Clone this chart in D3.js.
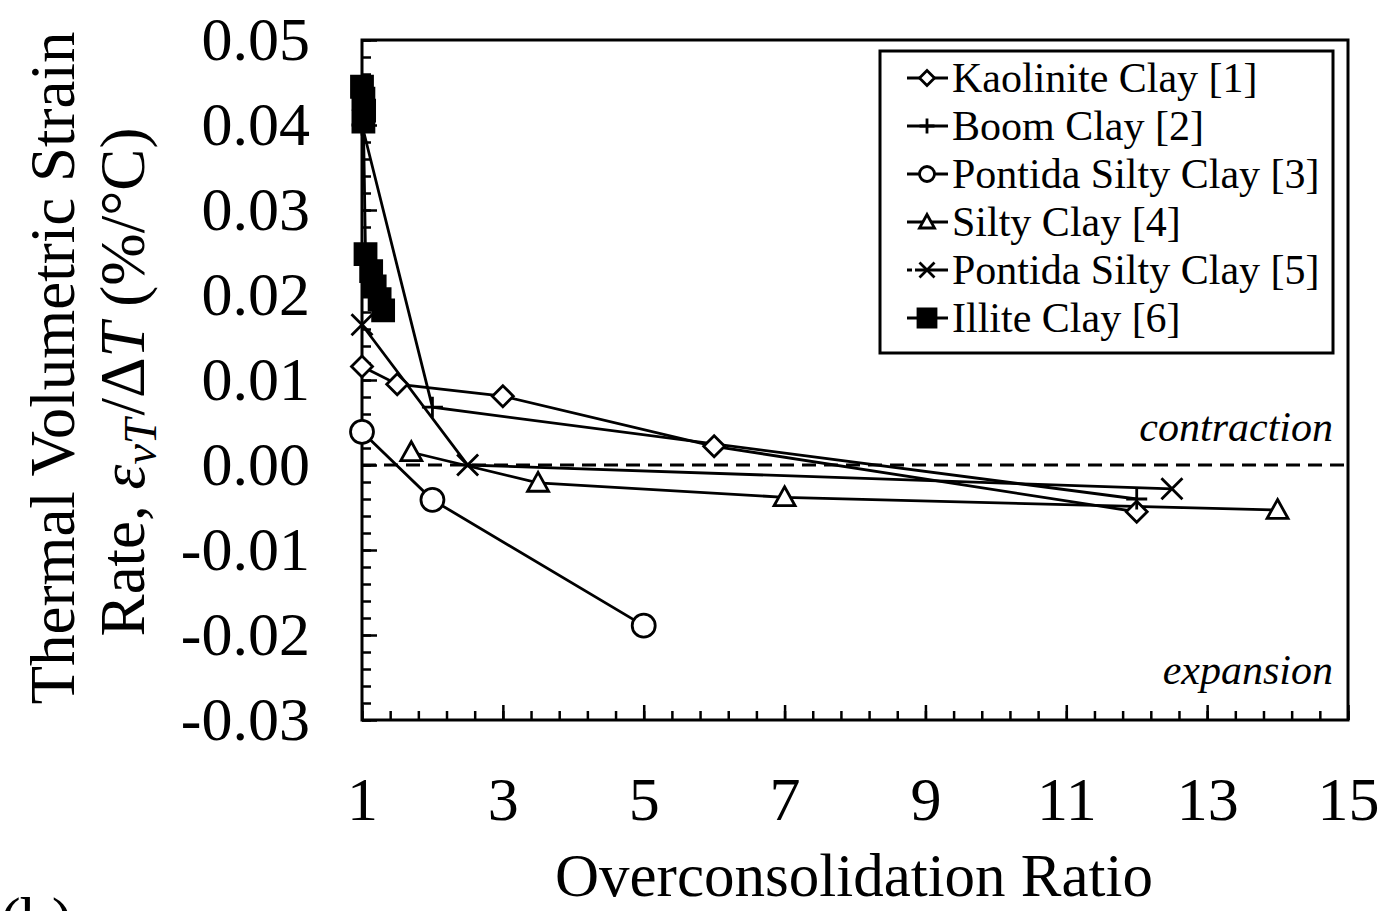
<!DOCTYPE html>
<html>
<head>
<meta charset="utf-8">
<script src="https://cdn.jsdelivr.net/npm/d3@7"></script>
<style>
  body { margin: 0; background: #fff; }
  svg { display: block; font-family: "Liberation Serif", "Times New Roman", serif; }
</style>
</head>
<body>
<svg id="chart"></svg>
<script>
const width = 1379;
const height = 911;

// data
const kaoliniteX = [1, 1.5, 3, 6, 12];
const kaoliniteY = [0.0116, 0.0095, 0.0081, 0.0022, -0.0055];
const boomX = [1, 2, 12];
const boomY = [0.040, 0.0068, -0.0040];
const pontida3X = [1, 2, 5];
const pontida3Y = [0.0039, -0.0041, -0.0189];
const siltyX = [1.7, 3.5, 7, 14];
const siltyY = [0.0015, -0.0021, -0.0038, -0.0053];
const pontida5X = [1, 2.5, 12.5];
const pontida5Y = [0.0165, 0.0, -0.0028];
const illiteX = [1.0, 1.02, 1.03, 1.02, 1.05, 1.13, 1.18, 1.25, 1.3];
const illiteY = [0.0445, 0.0431, 0.0417, 0.0404, 0.0248, 0.0228, 0.021, 0.0195, 0.0182];

const seriesNames = ["Kaolinite Clay [1]", "Boom Clay [2]", "Pontida Silty Clay [3]",
  "Silty Clay [4]", "Pontida Silty Clay [5]", "Illite Clay [6]"];
const seriesMarkers = ["diamond", "plus", "circle", "triangle", "cross", "square"];

const xMajor = [1, 3, 5, 7, 9, 11, 13, 15];
const yMajor = [-0.03, -0.02, -0.01, 0, 0.01, 0.02, 0.03, 0.04, 0.05];

const series = [
  [kaoliniteX, kaoliniteY], [boomX, boomY], [pontida3X, pontida3Y],
  [siltyX, siltyY], [pontida5X, pontida5Y], [illiteX, illiteY]
].map((s, i) => ({
  name: seriesNames[i],
  marker: seriesMarkers[i],
  points: s[0].map((x, j) => ({ x: x, y: s[1][j] }))
}));

const svg = d3.select("#chart").attr("width", width).attr("height", height);

const x = d3.scaleLinear().domain([1, 15]).range([362, 1348]);
const y = d3.scaleLinear().domain([-0.03, 0.05]).range([720, 40]);

// marker shapes, centred at 0,0
function markerPath(type, s) {
  const h = s / 2;
  if (type === "diamond") return `M0,${-h}L${h},0L0,${h}L${-h},0Z`;
  if (type === "plus") return `M${-h},0H${h}M0,${-h}V${h}`;
  if (type === "triangle") return `M0,${-h}L${h},${h * 0.8}L${-h},${h * 0.8}Z`;
  if (type === "cross") return `M${-h},${-h}L${h},${h}M${-h},${h}L${h},${-h}`;
  if (type === "square") return `M${-h},${-h}H${h}V${h}H${-h}Z`;
  return d3.arc()({ innerRadius: 0, outerRadius: h, startAngle: 0, endAngle: 2 * Math.PI });
}
function markerStyle(sel, type) {
  sel.attr("fill", type === "square" ? "#000" : (type === "plus" || type === "cross") ? "none" : "#fff")
    .attr("stroke", "#000")
    .attr("stroke-width", 2.8);
}

// plain hyphen for negatives, like the original
const fmtY = v => d3.format(".2f")(v).replace("−", "-");

// zero line
svg.append("line")
  .attr("x1", x(1)).attr("x2", x(15))
  .attr("y1", y(0)).attr("y2", y(0))
  .attr("stroke", "#000").attr("stroke-width", 3)
  .attr("stroke-dasharray", "14,8");

// frame
svg.append("rect")
  .attr("x", x(1)).attr("y", y(0.05))
  .attr("width", x(15) - x(1)).attr("height", y(-0.03) - y(0.05))
  .attr("fill", "none").attr("stroke", "#000").attr("stroke-width", 3);

// x axis: minor ticks inward, then majors with labels
const xMinor = d3.range(0, 36).map(i => 1 + i * 0.4);
svg.append("g")
  .attr("transform", `translate(0,${y(-0.03)})`)
  .call(d3.axisBottom(x).tickValues(xMinor).tickSize(-9).tickFormat(""))
  .call(g => g.select(".domain").remove())
  .call(g => g.selectAll("line").attr("stroke-width", 2.5));
svg.append("g")
  .attr("transform", `translate(0,${y(-0.03)})`)
  .call(d3.axisBottom(x).tickValues(xMajor).tickSize(-15).tickPadding(56).tickFormat(d3.format("d")))
  .call(g => g.select(".domain").remove())
  .call(g => g.selectAll("line").attr("stroke-width", 2.5))
  .call(g => g.selectAll("text").attr("font-size", 62).attr("font-family", "Liberation Serif").attr("fill", "#000"));

// y axis
const yMinor = d3.range(0, 41).map(i => -0.03 + i * 0.002);
svg.append("g")
  .attr("transform", `translate(${x(1)},0)`)
  .call(d3.axisLeft(y).tickValues(yMinor).tickSize(-9).tickFormat(""))
  .call(g => g.select(".domain").remove())
  .call(g => g.selectAll("line").attr("stroke-width", 2.5));
svg.append("g")
  .attr("transform", `translate(${x(1)},0)`)
  .call(d3.axisLeft(y).tickValues(yMajor).tickSize(-15).tickPadding(52).tickFormat(fmtY))
  .call(g => g.select(".domain").remove())
  .call(g => g.selectAll("line").attr("stroke-width", 2.5))
  .call(g => g.selectAll("text").attr("font-size", 62).attr("font-family", "Liberation Serif").attr("fill", "#000"));

// series lines and markers
const line = d3.line().x(d => x(d.x)).y(d => y(d.y));
series.forEach(s => {
  svg.append("path")
    .attr("d", line(s.points))
    .attr("fill", "none").attr("stroke", "#000").attr("stroke-width", 2.8);
});
series.forEach(s => {
  const size = s.marker === "circle" ? 23 : 21;
  svg.append("g").selectAll("path")
    .data(s.points)
    .join("path")
      .attr("transform", d => `translate(${x(d.x)},${y(d.y)})`)
      .attr("d", markerPath(s.marker, size))
      .call(markerStyle, s.marker);
});

// annotations
svg.append("text")
  .attr("x", 1333).attr("y", 441)
  .attr("text-anchor", "end").attr("font-style", "italic").attr("font-size", 42)
  .text("contraction");
svg.append("text")
  .attr("x", 1333).attr("y", 684)
  .attr("text-anchor", "end").attr("font-style", "italic").attr("font-size", 42)
  .text("expansion");

// legend
const legend = svg.append("g");
legend.append("rect")
  .attr("x", 880).attr("y", 51).attr("width", 453).attr("height", 302)
  .attr("fill", "#fff").attr("stroke", "#000").attr("stroke-width", 3);
const rows = legend.selectAll("g.row")
  .data(series)
  .join("g")
    .attr("class", "row")
    .attr("transform", (d, i) => `translate(927,${78 + i * 48})`);
rows.append("line")
  .attr("x1", -20).attr("x2", 21)
  .attr("stroke", "#000").attr("stroke-width", 2.8)
  .attr("stroke-dasharray", d => d.marker === "cross" ? "5,3,33" : null);
rows.append("path")
  .attr("d", d => markerPath(d.marker, d.marker === "square" ? 18 : 15))
  .each(function(d) { d3.select(this).call(markerStyle, d.marker); });
rows.append("text")
  .attr("x", 25).attr("y", 14)
  .attr("font-size", 42)
  .text(d => d.name);

// axis titles
svg.append("text")
  .attr("x", 854).attr("y", 896)
  .attr("text-anchor", "middle").attr("font-size", 61)
  .text("Overconsolidation Ratio");
svg.append("text")
  .attr("transform", "translate(74,368) rotate(-90)")
  .attr("text-anchor", "middle").attr("font-size", 63)
  .text("Thermal Volumetric Strain");
const t2 = svg.append("text")
  .attr("transform", "translate(144,382) rotate(-90)")
  .attr("text-anchor", "middle").attr("font-size", 63);
t2.append("tspan").text("Rate, ");
t2.append("tspan").attr("font-style", "italic").text("ε");
t2.append("tspan").attr("font-style", "italic").attr("font-size", 46).attr("dy", 12).text("vT");
t2.append("tspan").attr("dy", -12).attr("dx", 3).text("/Δ");
t2.append("tspan").attr("font-style", "italic").text("T");
t2.append("tspan").text(" (%/°C)");

// panel label, mostly cut off at the bottom edge as in the original
svg.append("text")
  .attr("x", 0).attr("y", 940)
  .attr("font-size", 62)
  .text("(b)");
</script>
</body>
</html>
